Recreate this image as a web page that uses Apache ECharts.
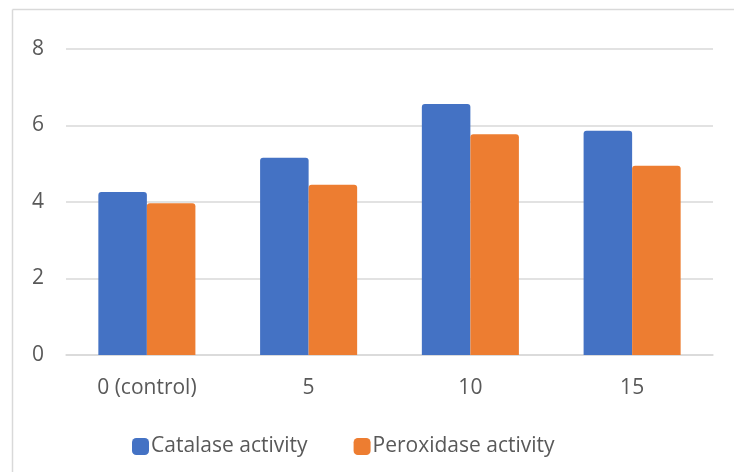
<!DOCTYPE html>
<html><head><meta charset="utf-8">
<script src="https://cdn.jsdelivr.net/npm/echarts@6/dist/echarts.min.js"></script>
<style>html,body{margin:0;padding:0;background:#fff}#c{width:734px;height:472px}</style>
</head><body><div id="c"></div>
<script>
var categories = ['0 (control)', '5', '10', '15'];
var catalase = [4.26, 5.16, 6.56, 5.86];
var peroxidase = [3.97, 4.45, 5.77, 4.95];
var seriesNames = ['Catalase activity', 'Peroxidase activity'];

var chart = echarts.init(document.getElementById('c'), null, {renderer: 'canvas'});
var font = 'Open Sans';
chart.setOption({
  animation: false,
  backgroundColor: '#fff',
  graphic: [
    {type: 'line', shape: {x1: 12.5, y1: 9.5, x2: 734, y2: 9.5}, style: {stroke: '#d9d9d9', lineWidth: 1.5}},
    {type: 'line', shape: {x1: 12.5, y1: 9.5, x2: 12.5, y2: 472}, style: {stroke: '#d9d9d9', lineWidth: 1.5}}
  ],
  grid: {left: 66, right: 21, top: 49, bottom: 117, containLabel: false},
  legend: {
    data: seriesNames,
    bottom: 10,
    left: 127,
    itemWidth: 17, itemHeight: 17, itemGap: 46,
    icon: 'roundRect',
    textStyle: {color: '#595959', fontSize: 21, fontFamily: font, padding: [0,0,0,-3]}
  },
  xAxis: {
    type: 'category', data: categories,
    axisLine: {show: true, lineStyle: {color: '#d9d9d9', width: 1.5}},
    axisTick: {show: false},
    axisLabel: {color: '#595959', fontSize: 21, fontFamily: font, margin: 23}
  },
  yAxis: {
    type: 'value', min: 0, max: 8, interval: 2,
    axisLine: {show: false}, axisTick: {show: false},
    splitLine: {lineStyle: {color: '#d9d9d9', width: 1.5}},
    axisLabel: {color: '#595959', fontSize: 21, fontFamily: font, margin: 22}
  },
  series: [
    {name: seriesNames[0], type: 'bar', data: catalase, barWidth: '30%', barGap: '0%',
     itemStyle: {color: '#4472c4', borderRadius: [3,3,0,0]}},
    {name: seriesNames[1], type: 'bar', data: peroxidase, barWidth: '30%', barGap: '0%',
     itemStyle: {color: '#ed7d31', borderRadius: [3,3,0,0]}}
  ]
});
</script></body></html>
